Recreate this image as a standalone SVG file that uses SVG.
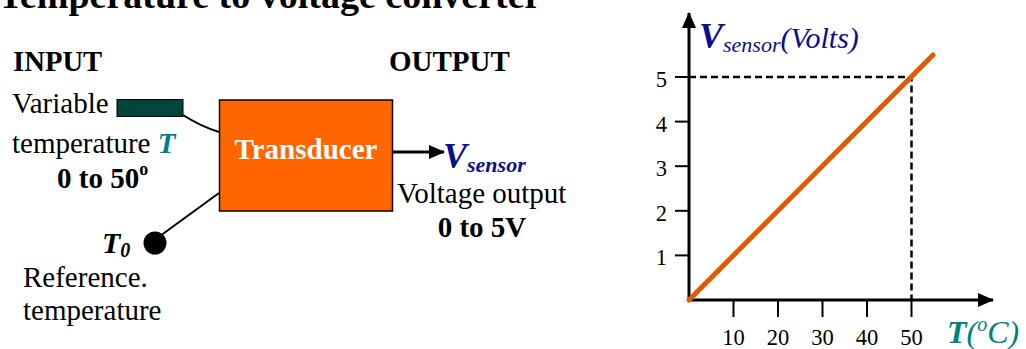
<svg xmlns="http://www.w3.org/2000/svg" width="1026" height="349" viewBox="0 0 1026 349">
<style>
text{font-family:"Liberation Serif","Times New Roman",serif;fill:#000}
.b{font-weight:bold}
.i{font-style:italic}
.navy{fill:#0d0d91}
.teal{fill:#008080}
.ln{stroke:#000;fill:none;stroke-width:2}
.dash{stroke:#000;fill:none;stroke-width:2.5;stroke-dasharray:7,4}
.tick{stroke:#000;stroke-width:2}
.ax{font-size:22.5px}
</style>
<defs>
<marker id="ah2" markerWidth="16" markerHeight="14" refX="15" refY="7" orient="auto" markerUnits="userSpaceOnUse">
<path d="M0,0 L16,7 L0,14 Z" fill="#000"/>
</marker>
</defs>
<text x="-2" y="8" class="b" font-size="38">Temperature to voltage converter</text>
<text x="13" y="71" class="b" font-size="28.7">INPUT</text>
<text x="389" y="71" class="b" font-size="29">OUTPUT</text>
<g id="connectors">
<path class="ln" d="M183,115 Q200,126 219,132"/>
<path class="ln" d="M219,193 L160,236"/>
<line x1="393" y1="152" x2="444" y2="152" stroke="#000" stroke-width="3" marker-end="url(#ah2)"/>
</g>
<g id="sensor-input">
<rect x="117" y="99.5" width="66" height="17" fill="#00463f" stroke="#000" stroke-width="1"/>
<text x="12" y="113" font-size="29">Variable</text>
<text x="12" y="153" font-size="29">temperature <tspan class="b i teal">T</tspan></text>
<text x="57" y="188" class="b" font-size="29">0 to 50<tspan font-size="18" dy="-13">o</tspan></text>
</g>
<g id="reference">
<circle cx="155" cy="243" r="11.5" fill="#000"/>
<text x="102" y="253" class="b i" font-size="30">T<tspan font-size="20" dy="4">0</tspan></text>
<text x="23" y="287" font-size="29">Reference.</text>
<text x="23" y="320" font-size="29">temperature</text>
</g>
<g id="transducer">
<rect x="219.5" y="100" width="173" height="111" fill="#ff6600" stroke="#000" stroke-width="1.5"/>
<text x="306" y="159" class="b" font-size="29" text-anchor="middle" style="fill:#fff">Transducer</text>
</g>
<g id="output">
<text x="443" y="168" class="b i navy" font-size="36">V<tspan font-size="22" dy="4">sensor</tspan></text>
<text x="397" y="203" font-size="29">Voltage output</text>
<text x="482" y="237" class="b" font-size="29" text-anchor="middle">0 to 5V</text>
</g>
<g id="graph">
<line x1="689" y1="301" x2="689" y2="13" stroke="#000" stroke-width="3" marker-end="url(#ah2)"/>
<line x1="688" y1="300" x2="993" y2="300" stroke="#000" stroke-width="3" marker-end="url(#ah2)"/>
<line class="tick" x1="675" y1="77" x2="689" y2="77"/>
<line class="tick" x1="675" y1="121.6" x2="689" y2="121.6"/>
<line class="tick" x1="675" y1="166.2" x2="689" y2="166.2"/>
<line class="tick" x1="675" y1="210.8" x2="689" y2="210.8"/>
<line class="tick" x1="675" y1="255.4" x2="689" y2="255.4"/>
<text class="ax" x="667" y="87" text-anchor="end">5</text>
<text class="ax" x="667" y="131.6" text-anchor="end">4</text>
<text class="ax" x="667" y="176.2" text-anchor="end">3</text>
<text class="ax" x="667" y="220.8" text-anchor="end">2</text>
<text class="ax" x="667" y="265.4" text-anchor="end">1</text>
<line class="tick" x1="733.5" y1="300" x2="733.5" y2="317"/>
<line class="tick" x1="778" y1="300" x2="778" y2="317"/>
<line class="tick" x1="822.5" y1="300" x2="822.5" y2="317"/>
<line class="tick" x1="867" y1="300" x2="867" y2="317"/>
<line class="tick" x1="911.5" y1="300" x2="911.5" y2="317"/>
<text class="ax" x="733.5" y="345" text-anchor="middle">10</text>
<text class="ax" x="778" y="345" text-anchor="middle">20</text>
<text class="ax" x="822.5" y="345" text-anchor="middle">30</text>
<text class="ax" x="867" y="345" text-anchor="middle">40</text>
<text class="ax" x="911.5" y="345" text-anchor="middle">50</text>
<path class="dash" d="M689,77 H911.5 V300"/>
<line x1="689" y1="300" x2="933" y2="55" stroke="#e05a00" stroke-width="5" stroke-linecap="round"/>
<text x="699" y="48" class="i navy" font-size="30"><tspan class="b" font-size="36">V</tspan><tspan font-size="22" dy="4">sensor</tspan><tspan dy="-4">(Volts)</tspan></text>
<text x="947" y="343" class="i teal" font-size="32"><tspan class="b">T</tspan>(<tspan font-size="20" dy="-12">o</tspan><tspan dy="12">C)</tspan></text>
</g>
</svg>
